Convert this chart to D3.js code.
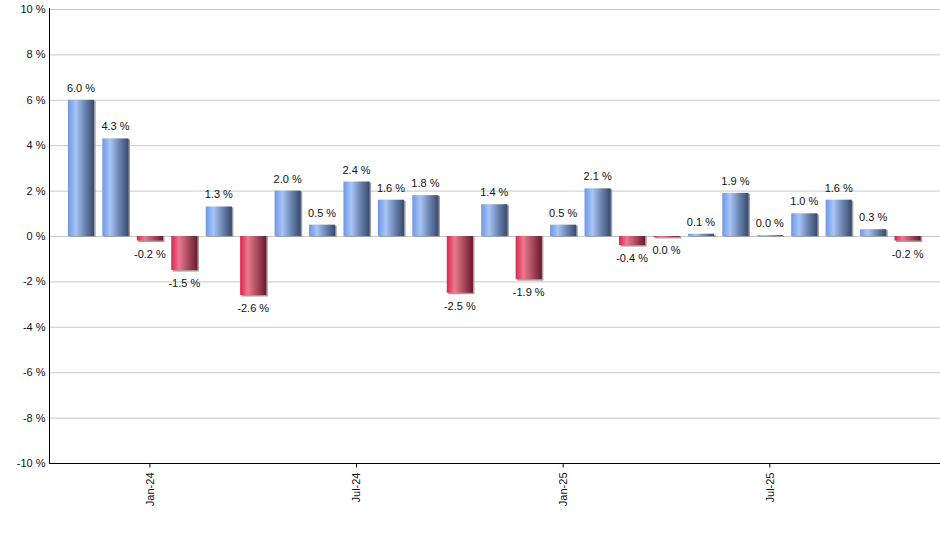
<!DOCTYPE html>
<html>
  <head>
    <meta charset="utf-8">
    <style type="text/css">
      body { margin: 0; background: #fff; }
      text { font-family: "Liberation Sans", Arial, sans-serif; fill: #111; }
      .grid line { stroke: #c8c8c8; stroke-width: 1; }
      .axis path, .axis line { stroke: #000; }
    </style>
  </head>
  <body>
    <script src="https://d3js.org/d3.v7.min.js"></script>
    <script>
      // monthly change, Nov-23 .. Nov-25
      var months = ["Nov-23", "Dec-23", "Jan-24", "Feb-24", "Mar-24", "Apr-24", "May-24",
        "Jun-24", "Jul-24", "Aug-24", "Sep-24", "Oct-24", "Nov-24", "Dec-24", "Jan-25",
        "Feb-25", "Mar-25", "Apr-25", "May-25", "Jun-25", "Jul-25", "Aug-25", "Sep-25",
        "Oct-25", "Nov-25"];
      var values = [6.0, 4.3, -0.2, -1.5, 1.3, -2.6, 2.0, 0.5, 2.4, 1.6, 1.8, -2.5, 1.4,
        -1.9, 0.5, 2.1, -0.4, -0.04, 0.1, 1.9, 0.04, 1.0, 1.6, 0.3, -0.2];
      var xTicks = ["Jan-24", "Jul-24", "Jan-25", "Jul-25"];
      var yTicks = [-10, -8, -6, -4, -2, 0, 2, 4, 6, 8, 10];

      var width = 940;
      var height = 550;
      var plotL = 50, plotR = 940, plotT = 9, plotB = 463;

      var svg = d3.select("body").append("svg")
          .attr("width", width)
          .attr("height", height);

      var defs = svg.append("defs");
      function grad(id, stops) {
        var g = defs.append("linearGradient").attr("id", id)
            .attr("x1", "0%").attr("x2", "100%").attr("y1", "0%").attr("y2", "0%");
        stops.forEach(function(s) {
          g.append("stop").attr("offset", s[0]).attr("stop-color", s[1]);
        });
      }
      grad("blue", [["0%", "#6c97e8"], ["30%", "#a9c5f5"], ["65%", "#6a84b0"], ["100%", "#38496a"]]);
      grad("red", [["0%", "#dc244c"], ["30%", "#ea7a90"], ["65%", "#a84a5e"], ["100%", "#681a2c"]]);

      var y = d3.scaleLinear().domain([-10, 10]).range([plotB, plotT]);

      var x = d3.scaleBand()
          .domain(months)
          .range([63.8, 924.8])
          .paddingInner(0.24)
          .paddingOuter(0.12);

      var fmt = d3.formatLocale({decimal: ".", thousands: ",", grouping: [3],
        currency: ["", ""], minus: "-"}).format(".1f");

      // grid
      svg.append("g").attr("class", "grid")
        .selectAll("line")
        .data(yTicks)
        .enter().append("line")
          .attr("x1", plotL).attr("x2", plotR)
          .attr("y1", function(d) { return y(d) + 0.5; })
          .attr("y2", function(d) { return y(d) + 0.5; });

      // bars with shadow
      var bars = svg.append("g");
      bars.selectAll("rect.shadow")
        .data(values)
        .enter().append("rect")
          .attr("class", "shadow")
          .attr("x", function(d, i) { return x(months[i]) + 1.5; })
          .attr("y", function(d) { return d >= 0 ? y(d) + 1 : y(0); })
          .attr("width", x.bandwidth())
          .attr("height", function(d) { return Math.abs(y(d) - y(0)) + (d < 0 ? 1.5 : 0); })
          .attr("fill", "#a0a0a0");

      bars.selectAll("rect.bar")
        .data(values)
        .enter().append("rect")
          .attr("class", "bar")
          .attr("x", function(d, i) { return x(months[i]); })
          .attr("y", function(d) { return d >= 0 ? y(d) : y(0); })
          .attr("width", x.bandwidth())
          .attr("height", function(d) { return Math.max(1, Math.abs(y(d) - y(0))); })
          .attr("fill", function(d) { return d >= 0 ? "url(#blue)" : "url(#red)"; });

      // value labels
      svg.append("g").selectAll("text")
        .data(values)
        .enter().append("text")
          .attr("x", function(d, i) { return x(months[i]) + x.bandwidth() / 2; })
          .attr("y", function(d) { return d >= 0 ? y(d) - 8 : y(d) + 17; })
          .attr("text-anchor", "middle")
          .attr("font-size", "11px")
          .text(function(d) { return fmt(Math.abs(d) < 0.05 ? 0 : d) + " %"; });

      // y axis
      var yAxis = svg.append("g").attr("class", "axis")
          .attr("transform", "translate(" + (plotL - 0.5) + ",0)")
          .call(d3.axisLeft(y).tickValues(yTicks).tickSize(0).tickPadding(4)
            .tickFormat(function(d) { return d + " %"; }));
      yAxis.selectAll("text").attr("font-size", "11px").style("font-family", "Liberation Sans, Arial, sans-serif");
      yAxis.select(".domain").attr("d", "M0," + (plotT - 1) + "V" + plotB);

      // x axis
      var xAxis = svg.append("g").attr("class", "axis")
          .attr("transform", "translate(0," + (plotB + 0.5) + ")")
          .call(d3.axisBottom(x).tickValues(xTicks).tickSize(4).tickSizeOuter(0));
      xAxis.select(".domain").attr("d", "M" + (plotL - 1) + ",0H" + plotR);
      xAxis.selectAll("text")
          .attr("font-size", "11px")
          .style("font-family", "Liberation Sans, Arial, sans-serif")
          .attr("transform", "rotate(-90)")
          .attr("text-anchor", "end")
          .attr("dy", "0.35em")
          .attr("x", -9)
          .attr("y", 0);
    </script>
  </body>
</html>
